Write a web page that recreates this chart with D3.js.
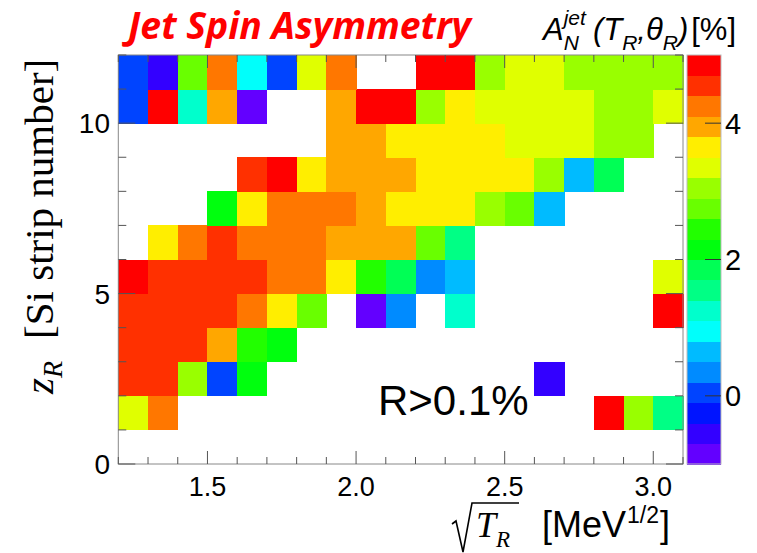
<!DOCTYPE html>
<html><head><meta charset="utf-8">
<script src="https://cdn.jsdelivr.net/npm/d3@7"></script>
<style>body{margin:0;background:#fff}svg{display:block}</style>
</head><body><svg id="c" width="757" height="553"></svg>
<script>
// ---- data ----
const xEdges = [1.2,1.3,1.4,1.5,1.6,1.7,1.8,1.9,2.0,2.1,2.2,2.3,2.4,2.5,2.6,2.7,2.8,2.9,3.0,3.1];
const yEdges = [0,1,2,3,4,5,6,7,8,9,10,11,12];
const xTickValues = [1.5, 2.0, 2.5, 3.0];
const xTickLabels = ["1.5", "2.0", "2.5", "3.0"];
const yTickValues = [0, 5, 10];
const yTickLabels = ["0", "5", "10"];
const zLevels = [-1.0,-0.7,-0.4,-0.1,0.2,0.5,0.8,1.1,1.4,1.7,2.0,2.3,2.6,2.9,3.2,3.5,3.8,4.1,4.4,4.7,5.0];
const paletteColors = ["#6300ff","#3300ff","#0014ff","#0044ff","#008bff","#00bbff","#00fffb","#00ffcc","#00ff85","#00ff55",
                       "#00ff0e","#22ff00","#69ff00","#99ff00","#e0ff00","#ffee00","#ffa700","#ff7700","#ff3000","#ff0000"];
const zTickValues = [0, 2, 4];
const zTickLabels = ["0", "2", "4"];
const n = null;
// A_N values [%] per strip row (z_R bin), columns = sqrt(T_R) bins
const asym_z0  = [n,n,n,n,n,n,n,n,n,n,n,n,n,n,n,n,n,n,n];
const asym_z1  = [3.35,4.25,n,n,n,n,n,n,n,n,n,n,n,n,n,n,4.85,3.05,1.55];
const asym_z2  = [4.55,4.55,3.05,0.05,2.15,n,n,n,n,n,n,n,n,n,-0.55,n,n,n,n];
const asym_z3  = [4.55,4.55,4.55,3.95,2.45,2.15,n,n,n,n,n,n,n,n,n,n,n,n,n];
const asym_z4  = [4.55,4.55,4.55,4.55,4.25,3.65,2.75,n,-0.85,0.35,n,1.25,n,n,n,n,n,n,4.85];
const asym_z5  = [4.85,4.55,4.55,4.55,4.55,4.25,4.25,3.65,2.45,1.85,0.35,0.65,n,n,n,n,n,n,3.35];
const asym_z6  = [n,3.65,4.25,4.55,4.25,4.25,4.25,3.95,3.95,3.95,2.75,1.55,n,n,n,n,n,n,n];
const asym_z7  = [n,n,n,2.15,3.65,4.25,4.25,4.25,3.95,3.65,3.65,3.65,3.05,2.75,0.65,n,n,n,n];
const asym_z8  = [n,n,n,n,4.55,4.85,3.65,3.95,3.95,3.95,3.65,3.65,3.65,3.65,3.05,0.65,1.85,n,n];
const asym_z9  = [n,n,n,n,n,n,n,3.95,3.95,3.65,3.65,3.65,3.65,3.35,3.35,3.35,3.05,3.05,n];
const asym_z10 = [0.05,4.85,1.25,3.95,-0.85,n,n,3.95,4.85,4.85,3.05,3.65,3.35,3.35,3.35,3.35,3.05,3.05,3.35];
const asym_z11 = [0.05,-0.55,2.75,4.25,0.95,0.05,3.35,4.25,n,n,4.85,4.85,3.05,3.35,3.35,3.05,3.05,3.05,3.05];
const asymRows = [asym_z0,asym_z1,asym_z2,asym_z3,asym_z4,asym_z5,asym_z6,asym_z7,asym_z8,asym_z9,asym_z10,asym_z11];

// ---- layout ----
const svg = d3.select("#c");
const L = 118.3, R = 683, T = 55, B = 464;
const x = d3.scaleLinear([1.2, 3.1], [L, R]);
const y = d3.scaleLinear([0, 12], [B, T]);
const color = d3.scaleThreshold(zLevels.slice(1, -1), paletteColors);
const cb = d3.scaleLinear([-1, 5], [B, T]);
const CBL = 687, CBR = 721;
const sans = "'Liberation Sans', Arial, Helvetica, sans-serif";
const serif = "'Liberation Serif', 'Times New Roman', serif";
const axisCol = "#555";

// cells
const cells = [];
asymRows.forEach((row, j) => row.forEach((v, i) => { if (v !== null) cells.push({i, j, v}); }));
svg.append("g").attr("shape-rendering", "crispEdges").selectAll("rect").data(cells).join("rect")
  .attr("x", d => x(xEdges[d.i]))
  .attr("y", d => y(yEdges[d.j + 1]))
  .attr("width", d => x(xEdges[d.i + 1]) - x(xEdges[d.i]) + 0.5)
  .attr("height", d => y(yEdges[d.j]) - y(yEdges[d.j + 1]) + 0.5)
  .attr("fill", d => color(d.v));

// frame
svg.append("rect").attr("x", L).attr("y", T).attr("width", R - L).attr("height", B - T)
  .attr("fill", "none").attr("stroke", "#888").attr("stroke-width", 1);

// ticks
const tk = svg.append("g").attr("stroke", axisCol).attr("stroke-width", 1);
xEdges.forEach(v => {
  const major = xTickValues.some(m => Math.abs(m - v) < 1e-6);
  const len = major ? 13 : 7;
  tk.append("line").attr("x1", x(v)).attr("x2", x(v)).attr("y1", B).attr("y2", B - len);
  tk.append("line").attr("x1", x(v)).attr("x2", x(v)).attr("y1", T).attr("y2", T + len);
});
yEdges.forEach(v => {
  const major = yTickValues.includes(v);
  const len = major ? 17 : 8;
  tk.append("line").attr("x1", L).attr("x2", L + len).attr("y1", y(v)).attr("y2", y(v));
  tk.append("line").attr("x1", R).attr("x2", R - len).attr("y1", y(v)).attr("y2", y(v));
});

// tick labels
svg.append("g").selectAll("text").data(xTickValues).join("text")
  .attr("x", d => x(d)).attr("y", 496).attr("text-anchor", "middle")
  .attr("font-family", sans).attr("font-size", 27).text((d, i) => xTickLabels[i]);
svg.append("g").selectAll("text").data(yTickValues).join("text")
  .attr("x", 110).attr("y", d => y(d) + 10).attr("text-anchor", "end")
  .attr("font-family", sans).attr("font-size", 28).text((d, i) => yTickLabels[i]);

// colour bar
const bands = paletteColors.map((c, k) => ({lo: zLevels[k], hi: zLevels[k + 1], c}));
svg.append("g").attr("shape-rendering", "crispEdges").selectAll("rect").data(bands).join("rect")
  .attr("x", CBL).attr("width", CBR - CBL)
  .attr("y", d => cb(d.hi)).attr("height", d => cb(d.lo) - cb(d.hi) + 0.5)
  .attr("fill", d => d.c);
svg.append("rect").attr("x", CBL).attr("y", T).attr("width", CBR - CBL).attr("height", B - T)
  .attr("fill", "none").attr("stroke", "#bbb").attr("stroke-width", 1);
svg.append("g").attr("stroke", "#333").selectAll("line").data(zTickValues).join("line")
  .attr("x1", CBR - 16).attr("x2", CBR).attr("y1", d => cb(d)).attr("y2", d => cb(d));
svg.append("g").selectAll("text").data(zTickValues).join("text")
  .attr("x", 725).attr("y", d => cb(d) + 10.5)
  .attr("font-family", sans).attr("font-size", 29).text((d, i) => zTickLabels[i]);

// text helper: sequential pieces with measured widths
function seq(parent, x0, y0, pieces) {
  let xx = x0;
  pieces.forEach(p => {
    if (p.stack) {
      let w = 0;
      p.stack.forEach(q => {
        const t = parent.append("text").attr("x", xx).attr("y", y0 + (q.dy || 0))
          .attr("font-family", q.family || sans).attr("font-size", q.size)
          .attr("font-style", q.italic ? "italic" : "normal").text(q.t);
        w = Math.max(w, t.node().getComputedTextLength());
      });
      xx += w + (p.gap || 0);
    } else {
      xx += (p.dx || 0);
      const t = parent.append("text").attr("x", xx).attr("y", y0 + (p.dy || 0))
        .attr("font-family", p.family || sans).attr("font-size", p.size)
        .attr("font-style", p.italic ? "italic" : "normal").attr("fill", p.fill || "#000").text(p.t);
      xx += t.node().getComputedTextLength();
    }
  });
  return xx;
}

// title
svg.append("text").attr("x", 128).attr("y", 39)
  .attr("font-family", "'Open Sans', Lato, sans-serif").attr("font-weight", 700).attr("font-style", "italic")
  .attr("font-size", 37).attr("fill", "#ff0000")
  .attr("textLength", 343).attr("lengthAdjust", "spacingAndGlyphs")
  .text("Jet Spin Asymmetry");

// colour bar title
seq(svg, 543, 40, [
  {t: "A", size: 31, italic: true},
  {stack: [{t: "jet", size: 21, italic: true, dy: -15}, {t: "N", size: 21, italic: true, dy: 10}], gap: 7},
  {t: "(T", size: 31, italic: true},
  {t: "R", size: 21, italic: true, dy: 10},
  {t: ",\u03B8", size: 31, italic: true},
  {t: "R", size: 21, italic: true, dy: 10},
  {t: ")", size: 31, italic: true},
  {t: " [%]", size: 31, dx: 3}
]);

// y-axis title (rotated)
const yg = svg.append("g").attr("transform", "translate(53,394) rotate(-90)");
seq(yg, 0, 0, [
  {t: "z", size: 41, italic: true, family: serif},
  {t: "R", size: 28, italic: true, family: serif, dy: 9},
  {t: "[Si strip number]", size: 41, family: serif, dx: 22}
]);

// x-axis title
svg.append("path")
  .attr("d", "M452,524 L456,521 L463,552 L472,503 L519,503")
  .attr("fill", "none").attr("stroke", "#000").attr("stroke-width", 1.6).attr("stroke-linejoin", "miter");
seq(svg, 476, 537, [
  {t: "T", size: 36, italic: true, family: serif},
  {t: "R", size: 23, italic: true, family: serif, dy: 10, dx: 0}
]);
seq(svg, 542, 537, [
  {t: "[MeV", size: 36},
  {t: "1/2", size: 23, dy: -14, dx: 1},
  {t: "]", size: 36, dx: 1}
]);

// annotation
svg.append("text").attr("x", 378).attr("y", 415).attr("font-family", sans)
  .attr("font-size", 42).text("R>0.1%");
</script></body></html>
